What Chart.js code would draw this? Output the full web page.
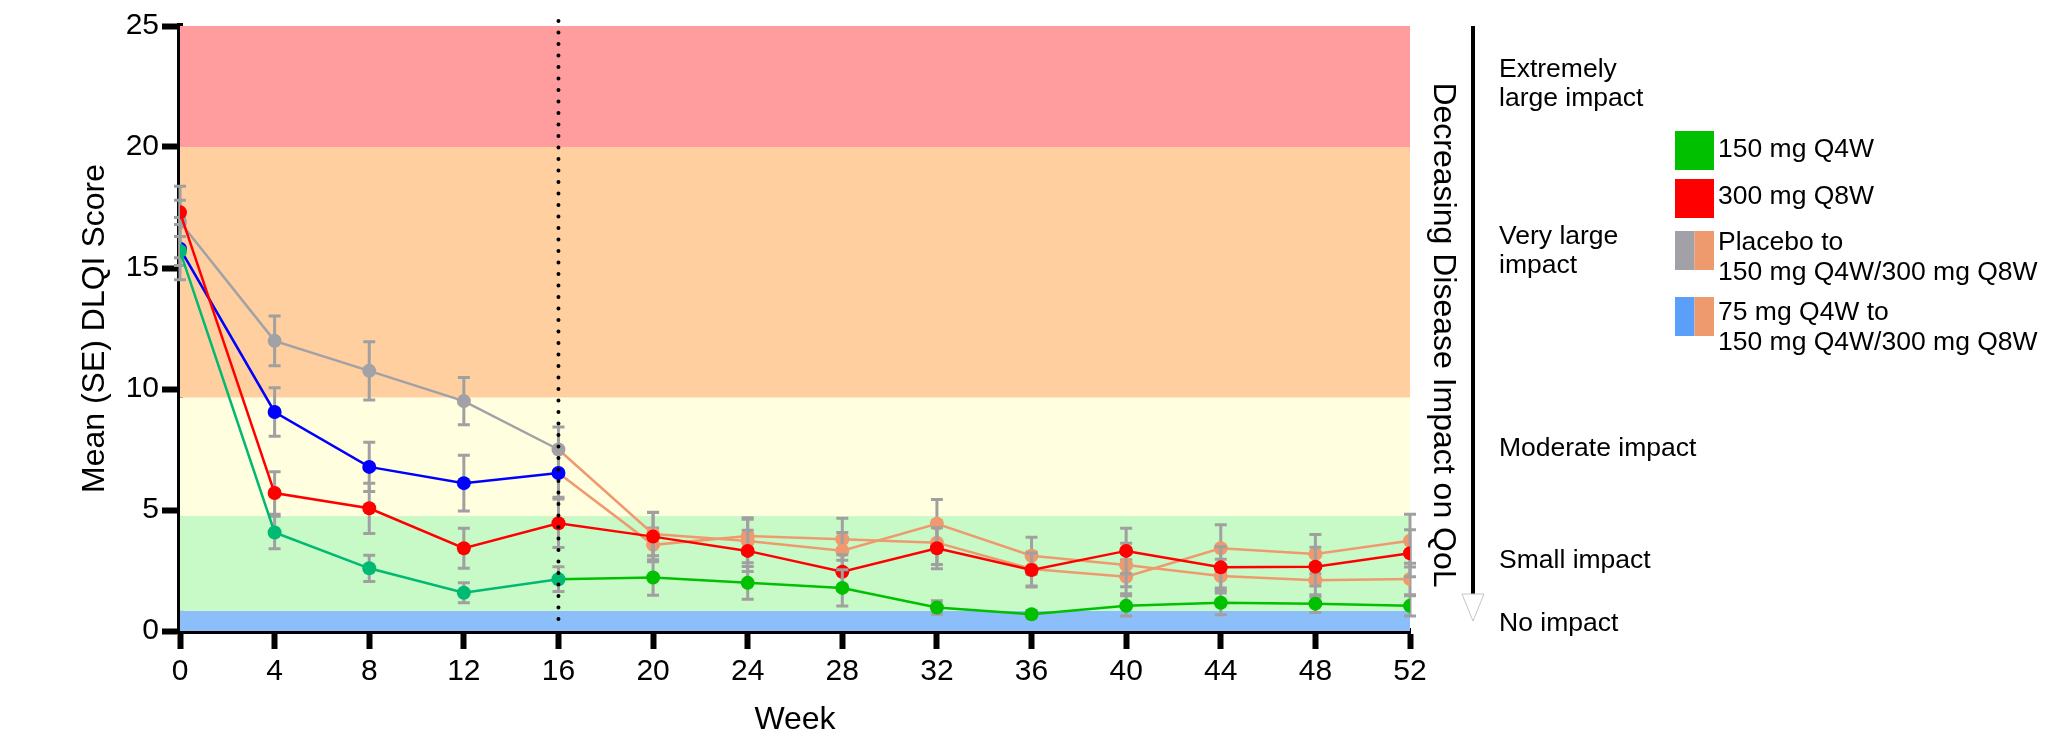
<!DOCTYPE html>
<html lang="en">
<head>
  <meta charset="UTF-8">
  <title>Mean DLQI Score</title>
  <script src="https://cdn.jsdelivr.net/npm/chart.js"></script>
  <style>
    body {
      margin: 0;
      background: #fff;
    }
    #wrap {
      width: 2058px;
      height: 740px;
    }
  </style>
</head>
<body>
  <div id="wrap"><canvas id="dlqiChart" width="2058" height="740"></canvas></div>

  <script>
    const weeks = [0, 4, 8, 12, 16, 20, 24, 28, 32, 36, 40, 44, 48, 52];
    const weeksBlinded = [0, 4, 8, 12, 16];
    const weeksSwitch = [16, 20, 24, 28, 32, 36, 40, 44, 48, 52];

    const mean150 = [15.7, 4.07, 2.59, 1.58, 2.14, 2.21, 1.99, 1.78, 0.97, 0.69, 1.04, 1.17, 1.13, 1.04];
    const se150 = [0.6, 0.67, 0.54, 0.41, 0.51, 0.73, 0.68, 0.75, 0.28, 0.15, 0.42, 0.5, 0.37, 0.42];

    const mean300 = [17.3, 5.7, 5.07, 3.42, 4.45, 3.9, 3.31, 2.45, 3.42, 2.52, 3.31, 2.63, 2.66, 3.21];
    const se300 = [0.5, 0.88, 1.04, 0.83, 1.0, 1.0, 0.85, 0.7, 0.85, 0.7, 0.94, 0.85, 0.8, 0.97];

    const meanPlacebo = [16.9, 11.99, 10.75, 9.5, 7.5];
    const sePlacebo = [1.48, 1.03, 1.2, 0.98, 0.93];

    const mean75 = [15.8, 9.05, 6.78, 6.11, 6.53];
    const se75 = [1.29, 1.0, 1.02, 1.15, 1.0];

    const meanPlaceboSwitch = [7.5, 4.01, 3.72, 3.32, 4.43, 3.11, 2.73, 2.27, 2.10, 2.15];
    const sePlaceboSwitch = [null, 0.9, 0.9, 0.75, 1.0, 0.76, 0.9, 0.7, 0.7, 0.65];

    const mean75Switch = [6.53, 3.56, 3.93, 3.79, 3.65, 2.56, 2.24, 3.42, 3.18, 3.73];
    const se75Switch = [null, 0.7, 0.75, 0.87, 0.9, 0.7, 0.7, 0.97, 0.81, 1.09];

    // DLQI impact bands (lower, upper)
    const bandEdges = [0, 0.83, 4.75, 9.65, 20, 25];
    const bandColors = ['#8cbffa', '#c8fac8', '#ffffe0', '#ffcf9f', '#ff9c9e'];

    const impactLabels = [
      ['Extremely', 'large impact'],
      ['Very large', 'impact'],
      ['Moderate impact'],
      ['Small impact'],
      ['No impact']
    ];
    const legendLabels = [
      ['150 mg Q4W'],
      ['300 mg Q8W'],
      ['Placebo to', '150 mg Q4W/300 mg Q8W'],
      ['75 mg Q4W to', '150 mg Q4W/300 mg Q8W']
    ];

    const teal = '#00b973';
    const green = '#00c000';
    const red = '#ff0000';
    const blue = '#0000ff';
    const grey = '#a1a1a7';
    const orange = '#ee9a6e';
    const FONT = '"Liberation Sans", Arial, sans-serif';

    function pts(xs, ys) {
      return xs.map((x, i) => ({ x: x, y: ys[i] }));
    }

    const bandsPlugin = {
      id: 'bands',
      beforeDatasetsDraw(chart) {
        const { ctx, chartArea, scales: { y } } = chart;
        ctx.save();
        for (let i = 0; i < bandColors.length; i++) {
          const top = y.getPixelForValue(bandEdges[i + 1]);
          const bot = y.getPixelForValue(bandEdges[i]);
          ctx.fillStyle = bandColors[i];
          ctx.fillRect(chartArea.left, top, chartArea.right - chartArea.left, bot - top);
        }
        ctx.restore();
      }
    };

    // SE bars go under each series' own markers but over earlier series
    const errorBarPlugin = {
      id: 'errorBars',
      beforeDatasetDraw(chart, args) {
        const ds = chart.data.datasets[args.index];
        if (!ds.errors) return;
        const { ctx, scales: { y } } = chart;
        ctx.save();
        ctx.strokeStyle = '#a0a0a0';
        ctx.lineWidth = 3;
        args.meta.data.forEach((pt, i) => {
          const se = ds.errors[i];
          if (se == null) return;
          const v = ds.data[i].y;
          const yt = y.getPixelForValue(v + se);
          const yb = y.getPixelForValue(v - se);
          ctx.beginPath();
          ctx.moveTo(pt.x, yt);
          ctx.lineTo(pt.x, yb);
          ctx.moveTo(pt.x - 6, yt);
          ctx.lineTo(pt.x + 6, yt);
          ctx.moveTo(pt.x - 6, yb);
          ctx.lineTo(pt.x + 6, yb);
          ctx.stroke();
        });
        ctx.restore();
      }
    };

    const week16Plugin = {
      id: 'week16',
      afterDatasetsDraw(chart) {
        const { ctx, chartArea, scales: { x } } = chart;
        const px = x.getPixelForValue(16);
        ctx.save();
        ctx.strokeStyle = '#000';
        ctx.lineWidth = 4;
        ctx.lineCap = 'round';
        ctx.setLineDash([0, 11.5]);
        ctx.beginPath();
        ctx.moveTo(px, chartArea.top - 5);
        ctx.lineTo(px, chartArea.bottom - 6);
        ctx.stroke();
        ctx.restore();
      }
    };

    const sidePanelPlugin = {
      id: 'sidePanel',
      afterDraw(chart) {
        const { ctx, chartArea } = chart;
        ctx.save();

        // arrow
        const ax = 1473;
        ctx.strokeStyle = '#000';
        ctx.lineWidth = 4;
        ctx.beginPath();
        ctx.moveTo(ax, chartArea.top);
        ctx.lineTo(ax, 595);
        ctx.stroke();
        ctx.beginPath();
        ctx.moveTo(ax - 11, 594);
        ctx.lineTo(ax + 11, 594);
        ctx.lineTo(ax, 621);
        ctx.closePath();
        ctx.fillStyle = '#fff';
        ctx.fill();
        ctx.strokeStyle = '#c4c4c4';
        ctx.lineWidth = 1;
        ctx.stroke();

        // rotated title
        ctx.save();
        ctx.translate(1443, 335);
        ctx.rotate(Math.PI / 2);
        ctx.fillStyle = '#000';
        ctx.font = '32px ' + FONT;
        ctx.textAlign = 'center';
        ctx.textBaseline = 'middle';
        ctx.fillText('Decreasing Disease Impact on QoL', 0, 0);
        ctx.restore();

        // impact labels
        ctx.fillStyle = '#000';
        ctx.font = '26.5px ' + FONT;
        ctx.textAlign = 'left';
        ctx.textBaseline = 'alphabetic';
        const impactY = [77, 244, 456, 568, 631];
        impactLabels.forEach((lines, i) => {
          lines.forEach((t, j) => ctx.fillText(t, 1499, impactY[i] + j * 29));
        });

        // legend
        const boxY = [131, 179, 231, 297];
        const boxColors = [[green], [red], [grey, orange], ['#5aa0fa', orange]];
        const textY = [157, 204, 250, 320];
        legendLabels.forEach((lines, i) => {
          const cols = boxColors[i];
          const w = 39 / cols.length;
          cols.forEach((c, k) => {
            ctx.fillStyle = c;
            ctx.fillRect(1675 + k * w, boxY[i], w, 39);
          });
          ctx.fillStyle = '#000';
          lines.forEach((t, j) => ctx.fillText(t, 1718, textY[i] + j * 30));
        });

        ctx.restore();
      }
    };

    const ctx = document.getElementById('dlqiChart').getContext('2d');
    const chart = new Chart(ctx, {
      type: 'line',
      data: {
        datasets: [
          {
            label: '150 mg Q4W',
            data: pts(weeks, mean150),
            errors: se150,
            borderColor: green,
            backgroundColor: green,
            pointBackgroundColor: weeks.map(w => w <= 16 ? teal : green),
            pointBorderColor: weeks.map(w => w <= 16 ? teal : green),
            segment: { borderColor: c => c.p0.parsed.x < 16 ? teal : green }
          },
          {
            label: '300 mg Q8W',
            data: pts(weeks, mean300),
            errors: se300,
            borderColor: red,
            backgroundColor: red
          },
          {
            label: '75 mg Q4W',
            data: pts(weeksBlinded, mean75),
            errors: se75,
            borderColor: blue,
            backgroundColor: blue
          },
          {
            label: 'Placebo',
            data: pts(weeksBlinded, meanPlacebo),
            errors: sePlacebo,
            borderColor: grey,
            backgroundColor: grey
          },
          {
            label: 'Placebo to 150 mg Q4W/300 mg Q8W',
            data: pts(weeksSwitch, meanPlaceboSwitch),
            errors: sePlaceboSwitch,
            borderColor: orange,
            backgroundColor: orange,
            pointRadius: weeksSwitch.map((w, i) => i === 0 ? 0 : 7)
          },
          {
            label: '75 mg Q4W to 150 mg Q4W/300 mg Q8W',
            data: pts(weeksSwitch, mean75Switch),
            errors: se75Switch,
            borderColor: orange,
            backgroundColor: orange,
            pointRadius: weeksSwitch.map((w, i) => i === 0 ? 0 : 7)
          }
        ]
      },
      options: {
        responsive: false,
        animation: false,
        devicePixelRatio: 1,
        layout: { padding: { top: 26, right: 648, bottom: 0, left: 0 } },
        elements: {
          line: { borderWidth: 2.5, tension: 0 },
          point: { radius: 7, borderWidth: 0, hoverRadius: 7 }
        },
        plugins: {
          legend: { display: false },
          tooltip: { enabled: false }
        },
        scales: {
          x: {
            type: 'linear',
            min: 0,
            max: 52,
            z: 1,
            afterFit: s => { s.height = 109; },
            ticks: {
              stepSize: 4,
              autoSkip: false,
              maxRotation: 0,
              padding: 5,
              color: '#000',
              font: { family: FONT, size: 30 }
            },
            grid: { drawOnChartArea: false, tickLength: 18, tickWidth: 6, tickColor: '#000' },
            border: { display: true, width: 6, color: '#000' },
            title: {
              display: true,
              text: 'Week',
              color: '#000',
              font: { family: FONT, size: 32 },
              padding: { top: 0, bottom: 1 }
            }
          },
          y: {
            min: 0,
            max: 25,
            z: 1,
            afterFit: s => { s.width = 180; },
            ticks: {
              stepSize: 5,
              padding: 3,
              color: '#000',
              font: { family: FONT, size: 30 }
            },
            grid: { drawOnChartArea: false, tickLength: 18, tickWidth: 6, tickColor: '#000' },
            border: { display: true, width: 6, color: '#000' },
            title: {
              display: true,
              text: 'Mean (SE) DLQI Score',
              color: '#000',
              font: { family: FONT, size: 32 },
              padding: { top: 76, bottom: 0 }
            }
          }
        }
      },
      plugins: [bandsPlugin, errorBarPlugin, week16Plugin, sidePanelPlugin]
    });
  </script>
</body>
</html>
